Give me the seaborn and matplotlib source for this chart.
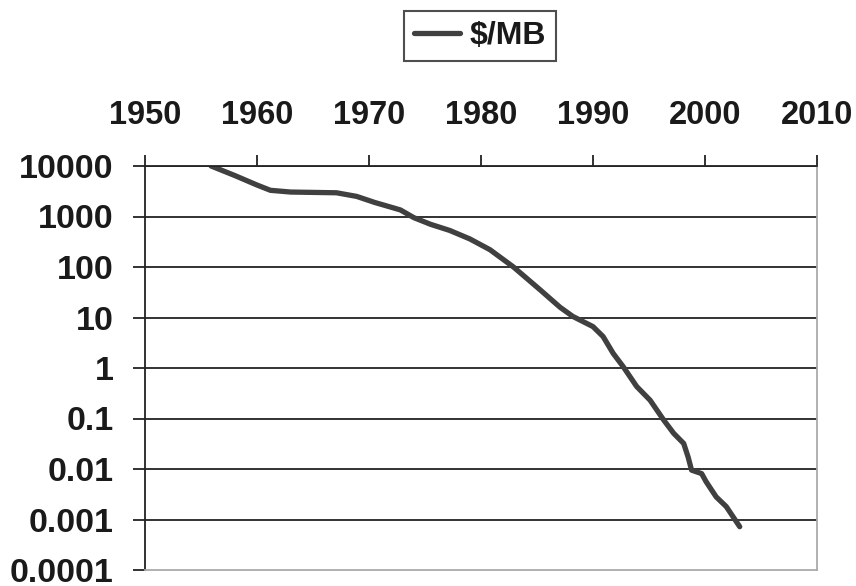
import matplotlib
matplotlib.use("Agg")
import matplotlib.pyplot as plt
import seaborn as sns
import pandas as pd

years = [1955.9, 1958.0, 1960.0, 1961.2, 1963.0, 1965.0, 1967.1, 1968.9, 1970.5,
         1972.8, 1974.0, 1975.5, 1977.2, 1979.0, 1980.8, 1982.9, 1985.3, 1987.05,
         1988.2, 1990.0, 1990.9, 1991.8, 1992.7, 1993.9, 1995.1, 1996.3, 1997.2,
         1998.1, 1998.5, 1998.8, 1999.7, 2000.1, 2001.0, 2001.9, 2003.1]
cost_per_mb = [10000, 6500, 4200, 3300, 3050, 3000, 2950, 2500, 1900,
               1350, 950, 700, 530, 360, 220, 100, 35, 16,
               10.5, 6.6, 4.2, 1.95, 1.06, 0.43, 0.23, 0.094, 0.051,
               0.032, 0.017, 0.0095, 0.0081, 0.0056, 0.0028, 0.0018, 0.00072]
series_name = "$/MB"
x_ticks = [1950, 1960, 1970, 1980, 1990, 2000, 2010]
y_ticks = [0.0001, 0.001, 0.01, 0.1, 1, 10, 100, 1000, 10000]
y_tick_labels = ["0.0001", "0.001", "0.01", "0.1", "1", "10", "100", "1000", "10000"]

df = pd.DataFrame({"year": years, "value": cost_per_mb, "series": series_name})

sns.set_style("white")
plt.rcParams["font.family"] = ["Liberation Sans", "DejaVu Sans"]
plt.rcParams["font.weight"] = "bold"

fig = plt.figure(figsize=(8.56, 5.86), dpi=100)
ax = fig.add_axes([145 / 856, 1 - 570 / 586, (817 - 145) / 856, (570 - 166) / 586])

sns.lineplot(data=df, x="year", y="value", ax=ax, color="#404040", linewidth=3.8,
             label=series_name, estimator=None, sort=False)
ax.set_yscale("log")
ax.set_xlim(1950, 2010)
ax.set_ylim(0.0001, 10000)

ax.set_yticks(y_ticks)
ax.set_yticklabels(y_tick_labels)
ax.minorticks_off()
ax.set_xticks(x_ticks)
ax.set_xticklabels([str(v) for v in x_ticks])

ax.xaxis.tick_top()
ax.tick_params(axis="x", which="major", direction="out", length=8, width=1.3,
               color="#222222", pad=17.5, labelsize=23.5, labelcolor="#1a1a1a")
ax.tick_params(axis="y", which="major", direction="out", length=8.6, width=1.3,
               color="#222222", pad=14, labelsize=24.5, labelcolor="#1a1a1a")
ax.tick_params(left=True, top=True, bottom=False, right=False)
for lab in ax.get_xticklabels() + ax.get_yticklabels():
    lab.set_fontweight("bold")

ax.grid(False)
for yv in y_ticks[1:]:
    ax.axhline(yv, color="#222222", linewidth=1.3, zorder=1)

ax.spines["left"].set_color("#222222")
ax.spines["left"].set_linewidth(1.3)
ax.spines["top"].set_color("#222222")
ax.spines["top"].set_linewidth(1.3)
ax.spines["right"].set_color("#aaaaaa")
ax.spines["right"].set_linewidth(1.3)
ax.spines["bottom"].set_color("#aaaaaa")
ax.spines["bottom"].set_linewidth(1.3)

ax.set_xlabel("")
ax.set_ylabel("")

leg = ax.legend(loc="center", bbox_to_anchor=(480 / 856, 1 - 36 / 586),
                bbox_transform=fig.transFigure, frameon=True, fancybox=False,
                prop={"family": "Liberation Sans", "weight": "bold", "size": 23},
                handlelength=1.45, handletextpad=0.3, borderpad=0.3,
                borderaxespad=0)
leg.get_frame().set_edgecolor("#222222")
leg.get_frame().set_linewidth(1.5)
for t in leg.get_texts():
    t.set_color("#1a1a1a")

fig.savefig("out.png", dpi=100)
